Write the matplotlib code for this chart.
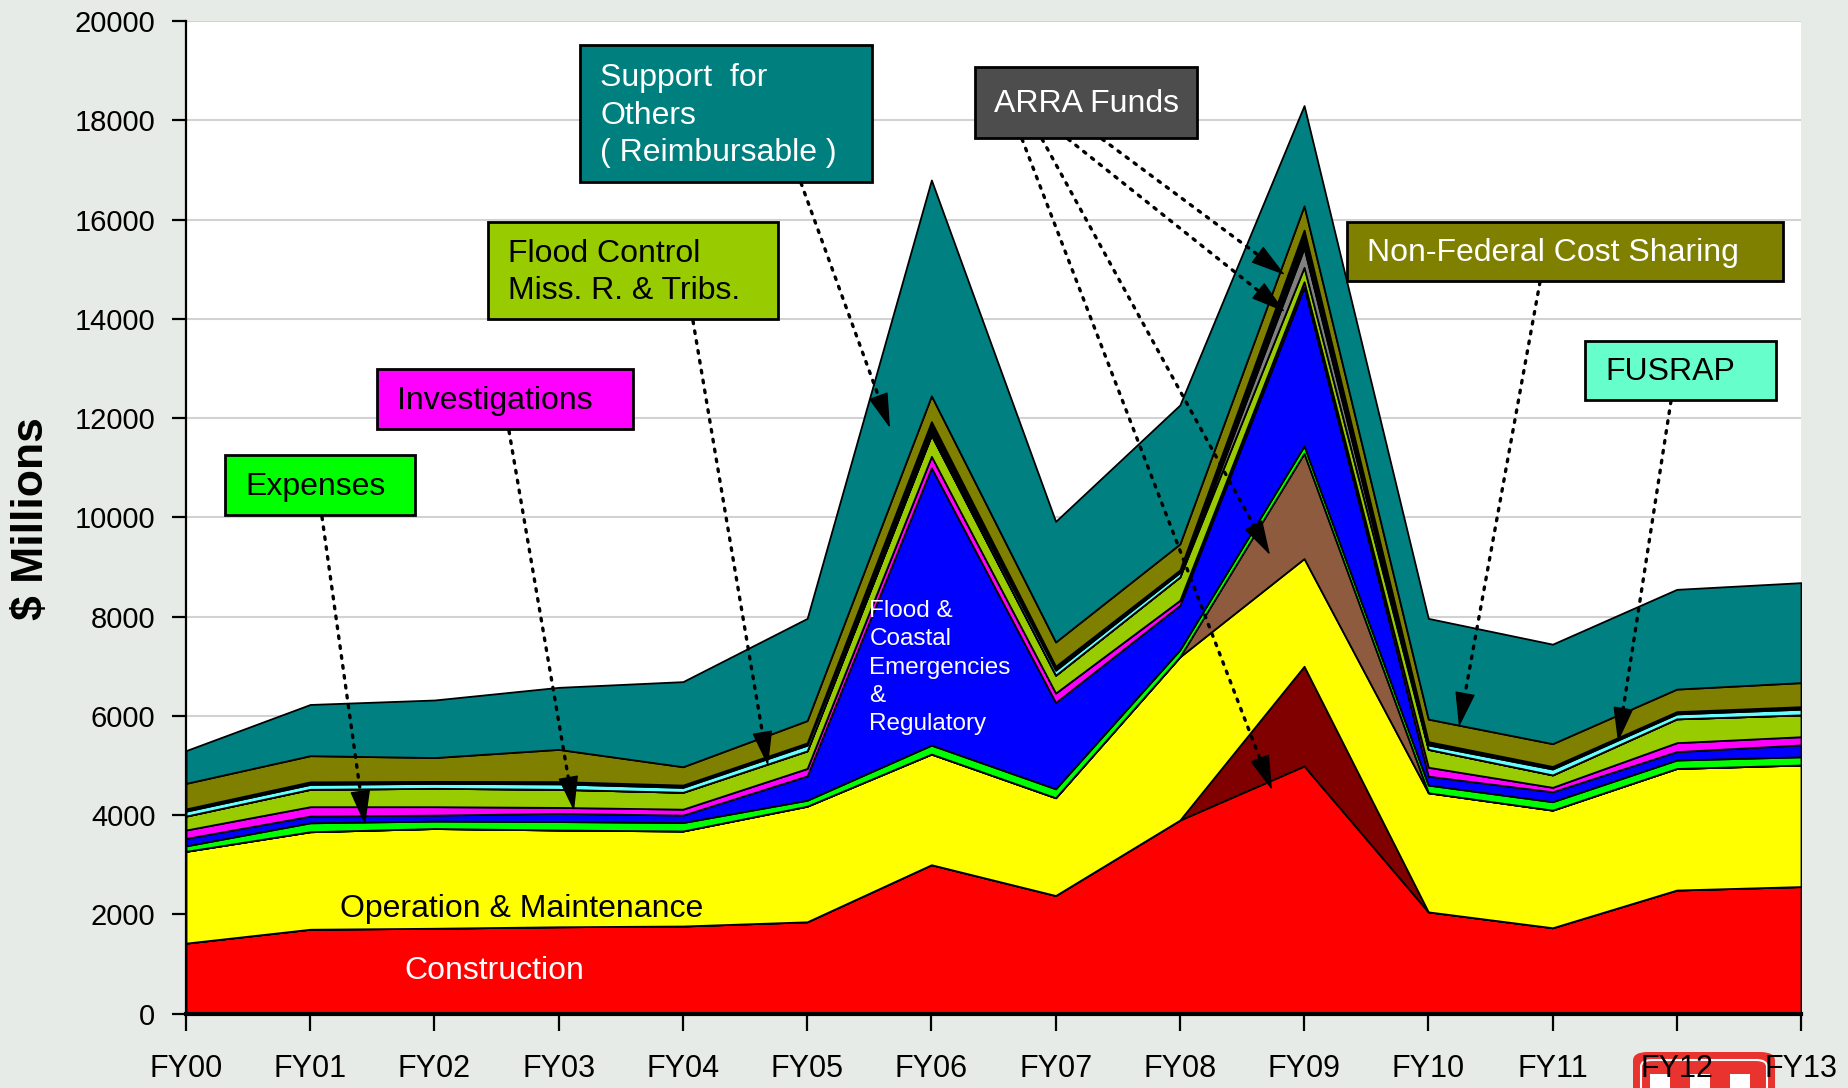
import matplotlib
matplotlib.use('Agg')
import math
import matplotlib.pyplot as plt
from matplotlib.patches import Rectangle, FancyBboxPatch

# data ($ millions), bottom layer first
years = ['FY00', 'FY01', 'FY02', 'FY03', 'FY04', 'FY05', 'FY06',
         'FY07', 'FY08', 'FY09', 'FY10', 'FY11', 'FY12', 'FY13']
construction = [1420, 1700, 1720, 1750, 1765, 1850, 3000, 2380, 3900, 4990, 2050, 1730, 2490, 2560]
arra_construction = [0, 0, 0, 0, 0, 0, 0, 0, 0, 2010, 0, 0, 0, 0]
om = [1850, 1965, 2010, 1950, 1915, 2330, 2230, 1970, 3290, 2170, 2400, 2370, 2450, 2450]
arra_om = [0, 0, 0, 0, 0, 0, 0, 0, 0, 2120, 0, 0, 0, 0]
expenses = [110, 180, 150, 170, 170, 120, 180, 180, 140, 150, 155, 170, 170, 165]
flood_coastal = [150, 135, 120, 165, 150, 490, 5590, 1740, 900, 3200, 180, 200, 170, 240]
investigations = [170, 190, 170, 120, 120, 150, 230, 190, 100, 110, 180, 90, 180, 165]
mrt = [280, 350, 370, 365, 340, 355, 430, 360, 470, 290, 360, 250, 480, 440]
arra_other = [0, 0, 0, 0, 0, 0, 0, 0, 0, 390, 0, 0, 0, 0]
fusrap = [100, 100, 100, 110, 100, 115, 70, 100, 90, 40, 90, 120, 100, 115]
other = [45, 50, 40, 45, 45, 45, 200, 80, 50, 320, 65, 50, 45, 50]
non_federal = [515, 528, 480, 650, 370, 450, 520, 490, 525, 490, 455, 460, 455, 485]
support_others = [660, 1032, 1160, 1250, 1715, 2060, 4350, 2430, 2800, 2020, 2030, 2005, 2010, 2015]

layers = [construction, arra_construction, om, arra_om, expenses, flood_coastal,
          investigations, mrt, arra_other, fusrap, other, non_federal, support_others]
colors = ['#ff0000', '#800000', '#ffff00', '#8e5b3e', '#00ff00', '#0000ff',
          '#ff00ff', '#99cc00', '#808080', '#66ffff', '#000000', '#808000', '#008080']

plt.rcParams['font.family'] = ['Liberation Sans', 'DejaVu Sans']

W, H = 1848, 1088
fig = plt.figure(figsize=(W / 100, H / 100), dpi=100, facecolor='#e7ebe7')
ax = fig.add_axes([186 / W, 1 - 1013.6 / H, (1801 - 186) / W, (1013.6 - 21.2) / H])
ax.set_facecolor('white')
ax.set_zorder(1)

x = list(range(len(years)))
ax.stackplot(x, layers, colors=colors, edgecolor='black', linewidth=1.3, zorder=2)

ax.set_xlim(0, len(years) - 1)
ax.set_ylim(0, 20000)
ax.set_yticks(range(0, 20001, 2000))
ax.set_xticks(x)
ax.set_xticklabels(years)
ax.yaxis.grid(True, color='#d2d2d2', lw=1.5, zorder=0)
ax.set_axisbelow(True)
for s in ['top', 'right']:
    ax.spines[s].set_visible(False)
ax.spines['left'].set_linewidth(1.6)
ax.spines['bottom'].set_linewidth(3)
ax.tick_params(axis='y', length=10, width=1.6, pad=12, labelsize=21)
ax.tick_params(axis='x', length=12, width=1.6, pad=17, labelsize=22)

fig.text(32 / W, 1 - 519 / H, '$ Millions', rotation=90, fontsize=32,
         fontweight='bold', ha='center', va='center')

# labels inside the areas
ax.text(2.70, 2100, 'Operation & Maintenance', fontsize=23, ha='center', va='center', zorder=6)
ax.text(2.48, 860, 'Construction', fontsize=23, color='white', ha='center', va='center', zorder=6)
ax.text(5.50, 8330, 'Flood &\nCoastal\nEmergencies\n&\nRegulatory', fontsize=17.5,
        color='white', ha='left', va='top', linespacing=1.36, zorder=6)


def fx(px):
    return px / W


def fy(py):
    return 1 - py / H


# callout boxes (figure pixels: x0, y0, x1, y1)
boxes = [
    ((580, 45, 872, 182), '#007f7f', 'white', 'Support  for\nOthers\n( Reimbursable )', 'left'),
    ((975, 67, 1197, 138), '#4d4d4d', 'white', 'ARRA Funds', 'center'),
    ((488, 222, 778, 319), '#99cc00', 'black', 'Flood Control\nMiss. R. & Tribs.', 'left'),
    ((1347, 222, 1783, 281), '#808000', 'white', 'Non-Federal Cost Sharing', 'left'),
    ((377, 369, 633, 429), '#ff00ff', 'black', 'Investigations', 'left'),
    ((1585, 341, 1776, 400), '#66ffcc', 'black', 'FUSRAP', 'left'),
    ((225, 455, 415, 515), '#00ff00', 'black', 'Expenses', 'left'),
]
for (x0, y0, x1, y1), fc, tc, txt, align in boxes:
    ax.add_patch(Rectangle((fx(x0), fy(y1)), fx(x1) - fx(x0), fy(y0) - fy(y1),
                           transform=fig.transFigure, facecolor=fc, edgecolor='black',
                           lw=2, clip_on=False, zorder=7))
    tx = (x0 + x1) / 2 if align == 'center' else x0 + 20
    ax.text(fx(tx), fy((y0 + y1) / 2 + 2), txt, transform=fig.transFigure, fontsize=23,
            color=tc, ha=align, va='center', linespacing=1.34, zorder=8)

# dotted arrows (figure pixels, start -> head)
arrows = [
    ((322, 517), (365, 825)),
    ((509, 431), (574, 811)),
    ((693, 321), (768, 766)),
    ((801, 183), (890, 428)),
    ((1022, 139), (1272, 790)),
    ((1042, 139), (1270, 555)),
    ((1068, 139), (1285, 312)),
    ((1102, 139), (1285, 275)),
    ((1540, 282), (1459, 727)),
    ((1671, 401), (1618, 742)),
]
head_len = 22
for (sx, sy), (ex, ey) in arrows:
    ax.annotate('', xy=(ex, H - ey), xytext=(sx, H - sy),
                xycoords='figure pixels', textcoords='figure pixels',
                arrowprops=dict(arrowstyle='-', color='black', lw=2.4,
                                linestyle=(0, (0.8, 2.2)), shrinkA=0, shrinkB=head_len - 4),
                annotation_clip=False, zorder=6)
    d = math.hypot(ex - sx, ey - sy)
    bx = ex - (ex - sx) / d * head_len
    by = ey - (ey - sy) / d * head_len
    ax.annotate('', xy=(ex, H - ey), xytext=(bx, H - by),
                xycoords='figure pixels', textcoords='figure pixels',
                arrowprops=dict(arrowstyle='-|>,head_length=0.9,head_width=0.26',
                                mutation_scale=25, color='black', lw=1,
                                shrinkA=0, shrinkB=0),
                annotation_clip=False, zorder=6)

# corner logo behind the last labels
fig.patches.append(FancyBboxPatch((fx(1633), fy(1100)), fx(1775) - fx(1633), fy(1052) - fy(1100),
                                  boxstyle='round,pad=0,rounding_size=0.008',
                                  transform=fig.transFigure, facecolor='#e8332f',
                                  edgecolor='none', zorder=0))
fig.patches.append(FancyBboxPatch((fx(1641), fy(1100)), fx(1767) - fx(1641), fy(1060) - fy(1100),
                                  boxstyle='round,pad=0,rounding_size=0.006',
                                  transform=fig.transFigure, facecolor='none',
                                  edgecolor='white', lw=1.5, zorder=0))
for cx in (1660, 1700, 1740):
    fig.patches.append(Rectangle((fx(cx - 10), fy(1088)), fx(20), fy(1074) - fy(1088),
                                 transform=fig.transFigure, facecolor='white',
                                 edgecolor='none', zorder=0))

fig.savefig('out.png', dpi=100, facecolor=fig.get_facecolor())
